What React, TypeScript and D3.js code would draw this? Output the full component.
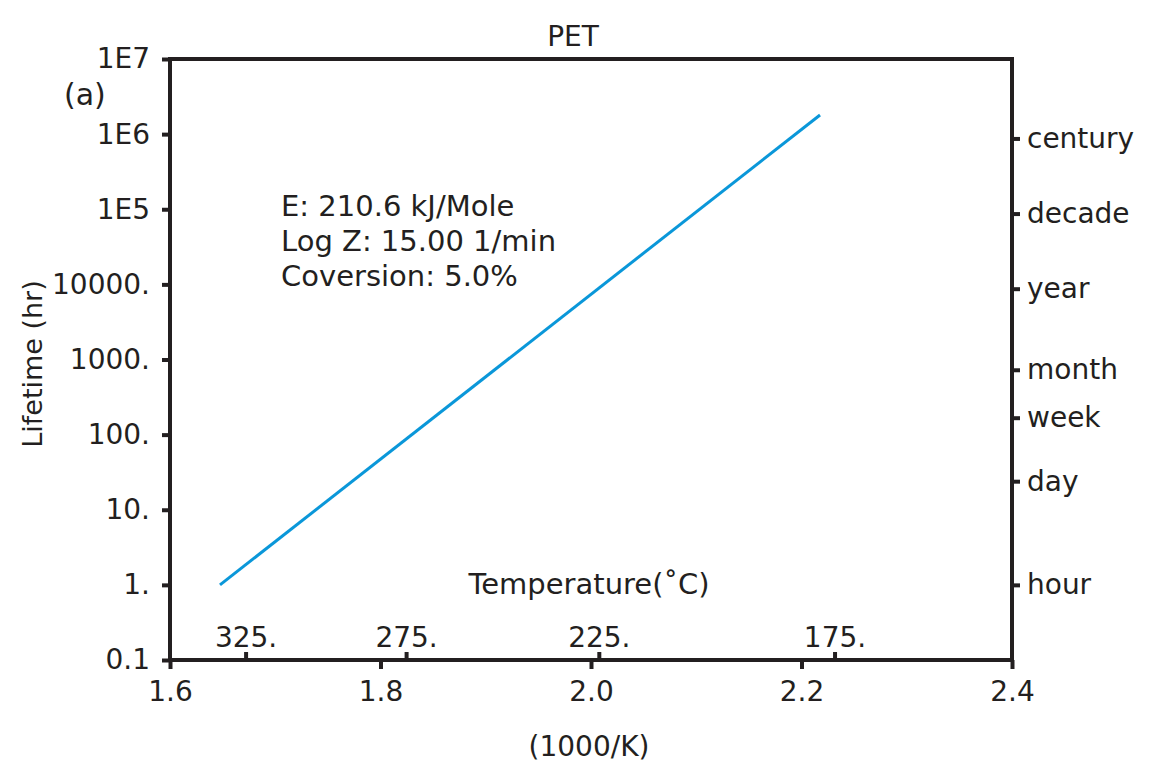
import React, { useEffect, useRef } from "react";
import * as d3 from "d3";

// Arrhenius lifetime line (1000/K vs hours)
const lineX = [1.6475, 2.2176];
const lineY = [1.0, 1.8e6];

const xTicks = [1.6, 1.8, 2.0, 2.2, 2.4];
const xTickLabels = ["1.6", "1.8", "2.0", "2.2", "2.4"];
const yTicks = [0.1, 1, 10, 100, 1000, 10000, 1e5, 1e6, 1e7];
const yTickLabels = ["0.1", "1.", "10.", "100.", "1000.", "10000.", "1E5", "1E6", "1E7"];
const tempTicks = [325, 275, 225, 175];
const timeTicks = [876000, 87600, 8760, 730, 168, 24, 1];
const timeLabels = ["century", "decade", "year", "month", "week", "day", "hour"];
const infoLines = ["E: 210.6 kJ/Mole", "Log Z: 15.00 1/min", "Coversion: 5.0%"];

const W = 1168;
const H = 766;
const margin = { top: 59, right: 156, bottom: 106, left: 170 };
const FONT = "'DejaVu Sans', sans-serif";
const INK = "#231f20";

export default function App() {
  const svgRef = useRef<SVGSVGElement>(null);

  useEffect(() => {
    if (!svgRef.current) return;
    const svg = d3.select(svgRef.current);
    svg.selectAll("*").remove();

    const innerW = W - margin.left - margin.right;
    const innerH = H - margin.top - margin.bottom;

    const x = d3.scaleLinear().domain([1.6, 2.4]).range([0, innerW]);
    const y = d3.scaleLog().domain([0.1, 1e7]).range([innerH, 0]);

    const g = svg.append("g").attr("transform", `translate(${margin.left},${margin.top})`);

    const styleAxis = (sel: d3.Selection<SVGGElement, unknown, null, undefined>) => {
      sel.select(".domain").remove();
      sel.selectAll("line").attr("stroke", INK).attr("stroke-width", 4);
      sel.selectAll("text")
        .style("font-family", FONT)
        .style("font-size", "28px")
        .attr("fill", INK);
    };

    // bottom axis (1000/K)
    const xAxis = g.append("g")
      .attr("transform", `translate(0,${innerH})`)
      .call(d3.axisBottom(x).tickValues(xTicks).tickSize(9).tickPadding(11)
        .tickFormat((_, i) => xTickLabels[i]));
    styleAxis(xAxis);
    xAxis.selectAll("text").attr("dy", "0.75em");

    // inner temperature ticks (°C)
    const tAxis = g.append("g")
      .attr("transform", `translate(0,${innerH})`)
      .call(d3.axisTop(x).tickValues(tempTicks.map(t => 1000 / (t + 273.15)))
        .tickSize(8).tickPadding(5)
        .tickFormat((_, i) => `${tempTicks[i]}.`));
    styleAxis(tAxis);

    // left axis
    const yAxis = g.append("g")
      .call(d3.axisLeft(y).tickValues(yTicks).tickSize(8).tickPadding(12)
        .tickFormat((_, i) => yTickLabels[i]));
    styleAxis(yAxis);

    // right axis (time units)
    const rAxis = g.append("g")
      .attr("transform", `translate(${innerW},0)`)
      .call(d3.axisRight(y).tickValues(timeTicks).tickSize(8).tickPadding(7)
        .tickFormat((_, i) => timeLabels[i]));
    styleAxis(rAxis);

    // frame
    g.append("rect")
      .attr("width", innerW)
      .attr("height", innerH)
      .attr("fill", "none")
      .attr("stroke", INK)
      .attr("stroke-width", 4);

    // lifetime line
    const pts = lineX.map((v, i) => [v, lineY[i]] as [number, number]);
    g.append("path")
      .datum(pts)
      .attr("fill", "none")
      .attr("stroke", "#0a97d9")
      .attr("stroke-width", 3)
      .attr("d", d3.line<[number, number]>().x(d => x(d[0])).y(d => y(d[1])));

    const text = (tx: number, ty: number, s: string, anchor = "start", size = 28) =>
      svg.append("text")
        .attr("x", tx)
        .attr("y", ty)
        .attr("text-anchor", anchor)
        .style("font-family", FONT)
        .style("font-size", `${size}px`)
        .attr("fill", INK)
        .text(s);

    infoLines.forEach((s, i) => text(281, 216 + i * 35, s, "start", 29));

    text(573, 46, "PET", "middle");
    text(64, 105, "(a)", "start", 30);
    text(589, 594, "Temperature(\u02DAC)", "middle", 29);
    text(589, 756, "(1000/K)", "middle");
    text(0, 0, "Lifetime (hr)", "middle", 27)
      .attr("transform", "translate(42,364) rotate(-90)");
  }, []);

  return (
    <svg
      ref={svgRef}
      width={W}
      height={H}
      style={{ position: "absolute", left: 0, top: 0, background: "#fff" }}
    />
  );
}
